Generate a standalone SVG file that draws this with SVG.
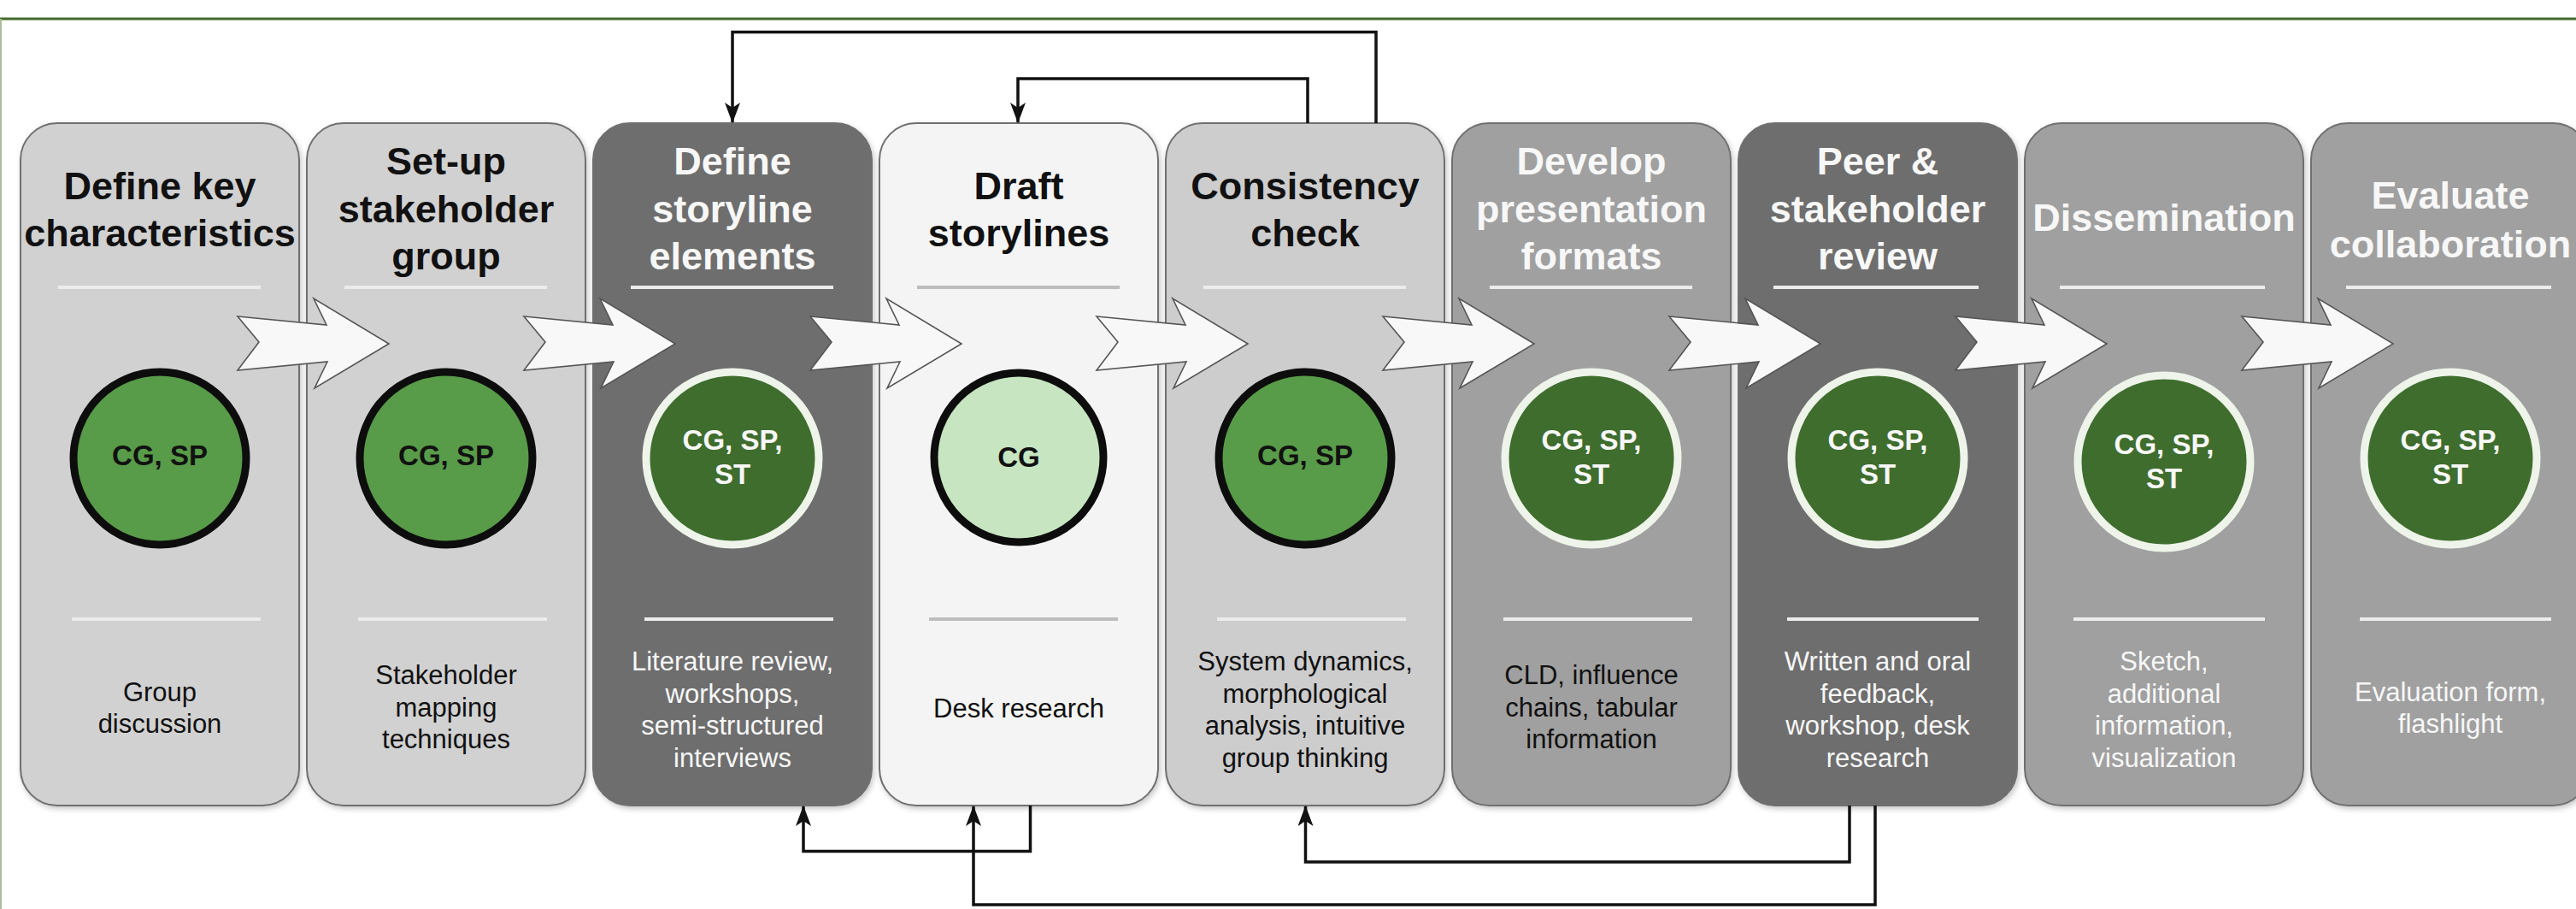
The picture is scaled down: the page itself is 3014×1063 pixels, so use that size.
<svg xmlns="http://www.w3.org/2000/svg" width="3014" height="1063" viewBox="0 0 3014 1063">
<style>
.box{stroke:#6f6f6f;stroke-width:2}
.b-lt{fill:#d1d1d1}
.b-cc{fill:#cdcdcd}
.b-dk{fill:#6e6e6e}
.b-md{fill:#a0a0a0}
.b-wh{fill:#f4f4f4}
.sep{stroke:#ececec;stroke-width:4}
.sep-g{stroke:#bdbdbd;stroke-width:4}
.title{font-family:"Liberation Sans",Arial,sans-serif;font-weight:bold;font-size:45px;text-anchor:middle}
.desc{font-family:"Liberation Sans",Arial,sans-serif;font-size:31px;text-anchor:middle}
.ctext{font-family:"Liberation Sans",Arial,sans-serif;font-weight:bold;font-size:33px;text-anchor:middle}
.blk{fill:#111111}
.wht{fill:#f7f7f7}
.c-med{fill:#589b48;stroke:#0d0d0d;stroke-width:9}
.c-lig{fill:#c6e5c0;stroke:#0d0d0d;stroke-width:9}
.c-dk{fill:#3f6d2e;stroke:#eef4ea;stroke-width:9}
.chev{fill:#f8f8f8;stroke:#555555;stroke-width:1.6;stroke-linejoin:miter}
.conn{fill:none;stroke:#111111;stroke-width:3.5}
</style>
<defs>
<filter id="sh" x="-10%" y="-10%" width="120%" height="120%">
<feDropShadow dx="2" dy="3" stdDeviation="3" flood-color="#000" flood-opacity="0.22"/>
</filter>
<polygon id="chevron" points="0,370 104,380 89,349 177,402 90,454 105,423 0,433 25,400"/>
<marker id="ah" viewBox="0 0 24 18" refX="23" refY="9" markerWidth="24" markerHeight="18" markerUnits="userSpaceOnUse" orient="auto">
<path d="M0,0 L24,9 L0,18 L6,9 z" fill="#111111"/>
</marker>
</defs>
<rect x="0" y="0" width="3014" height="1063" fill="#ffffff"/>
<line x1="0" y1="22" x2="3014" y2="22" stroke="#44692a" stroke-width="3"/>
<line x1="1" y1="22" x2="1" y2="1063" stroke="#a9bf9a" stroke-width="2"/>

<g id="node1">
<rect class="box b-lt" filter="url(#sh)" x="24" y="144" width="326" height="798" rx="43"/>
<text class="title blk" x="187"><tspan x="187" y="233">Define key</tspan><tspan x="187" y="288">characteristics</tspan></text>
<line class="sep" x1="68" y1="336" x2="305" y2="336"/>
<circle class="c-med" cx="187" cy="536" r="101"/>
<text class="ctext blk" x="187" y="544">CG, SP</text>
<line class="sep" x1="84" y1="724" x2="305" y2="724"/>
<text class="desc blk"><tspan x="187" y="820">Group</tspan><tspan x="187" y="857">discussion</tspan></text>
</g>

<g id="node2">
<rect class="box b-lt" filter="url(#sh)" x="359" y="144" width="326" height="798" rx="43"/>
<text class="title blk"><tspan x="522" y="204">Set-up</tspan><tspan x="522" y="260">stakeholder</tspan><tspan x="522" y="315">group</tspan></text>
<line class="sep" x1="403" y1="336" x2="640" y2="336"/>
<circle class="c-med" cx="522" cy="536" r="101"/>
<text class="ctext blk" x="522" y="544">CG, SP</text>
<line class="sep" x1="419" y1="724" x2="640" y2="724"/>
<text class="desc blk"><tspan x="522" y="800">Stakeholder</tspan><tspan x="522" y="838">mapping</tspan><tspan x="522" y="875">techniques</tspan></text>
</g>

<g id="node3">
<rect class="box b-dk" filter="url(#sh)" x="694" y="144" width="326" height="798" rx="43"/>
<text class="title wht"><tspan x="857" y="204">Define</tspan><tspan x="857" y="260">storyline</tspan><tspan x="857" y="315">elements</tspan></text>
<line class="sep" x1="738" y1="336" x2="975" y2="336"/>
<circle class="c-dk" cx="857" cy="536" r="101"/>
<text class="ctext wht"><tspan x="857" y="526">CG, SP,</tspan><tspan x="857" y="566">ST</tspan></text>
<line class="sep" x1="754" y1="724" x2="975" y2="724"/>
<text class="desc wht"><tspan x="857" y="784">Literature review,</tspan><tspan x="857" y="822">workshops,</tspan><tspan x="857" y="859">semi-structured</tspan><tspan x="857" y="897">interviews</tspan></text>
</g>

<g id="node4">
<rect class="box b-wh" filter="url(#sh)" x="1029" y="144" width="326" height="798" rx="43"/>
<text class="title blk"><tspan x="1192" y="233">Draft</tspan><tspan x="1192" y="288">storylines</tspan></text>
<line class="sep-g" x1="1073" y1="336" x2="1310" y2="336"/>
<circle class="c-lig" cx="1192" cy="535" r="99"/>
<text class="ctext blk" x="1192" y="546">CG</text>
<line class="sep-g" x1="1087" y1="724" x2="1308" y2="724"/>
<text class="desc blk"><tspan x="1192" y="839">Desk research</tspan></text>
</g>

<g id="node5">
<rect class="box b-cc" filter="url(#sh)" x="1364" y="144" width="326" height="798" rx="43"/>
<text class="title blk"><tspan x="1527" y="233">Consistency</tspan><tspan x="1527" y="288">check</tspan></text>
<line class="sep" x1="1408" y1="336" x2="1645" y2="336"/>
<circle class="c-med" cx="1527" cy="536" r="101"/>
<text class="ctext blk" x="1527" y="544">CG, SP</text>
<line class="sep" x1="1424" y1="724" x2="1645" y2="724"/>
<text class="desc blk"><tspan x="1527" y="784">System dynamics,</tspan><tspan x="1527" y="822">morphological</tspan><tspan x="1527" y="859">analysis, intuitive</tspan><tspan x="1527" y="897">group thinking</tspan></text>
</g>

<g id="node6">
<rect class="box b-md" filter="url(#sh)" x="1699" y="144" width="326" height="798" rx="43"/>
<text class="title wht"><tspan x="1862" y="204">Develop</tspan><tspan x="1862" y="260">presentation</tspan><tspan x="1862" y="315">formats</tspan></text>
<line class="sep" x1="1743" y1="336" x2="1980" y2="336"/>
<circle class="c-dk" cx="1862" cy="536" r="101"/>
<text class="ctext wht"><tspan x="1862" y="526">CG, SP,</tspan><tspan x="1862" y="566">ST</tspan></text>
<line class="sep" x1="1759" y1="724" x2="1980" y2="724"/>
<text class="desc blk"><tspan x="1862" y="800">CLD, influence</tspan><tspan x="1862" y="838">chains, tabular</tspan><tspan x="1862" y="875">information</tspan></text>
</g>

<g id="node7">
<rect class="box b-dk" filter="url(#sh)" x="2034" y="144" width="326" height="798" rx="43"/>
<text class="title wht"><tspan x="2197" y="204">Peer &amp;</tspan><tspan x="2197" y="260">stakeholder</tspan><tspan x="2197" y="315">review</tspan></text>
<line class="sep" x1="2075" y1="336" x2="2315" y2="336"/>
<circle class="c-dk" cx="2197" cy="536" r="101"/>
<text class="ctext wht"><tspan x="2197" y="526">CG, SP,</tspan><tspan x="2197" y="566">ST</tspan></text>
<line class="sep" x1="2091" y1="724" x2="2315" y2="724"/>
<text class="desc wht"><tspan x="2197" y="784">Written and oral</tspan><tspan x="2197" y="822">feedback,</tspan><tspan x="2197" y="859">workshop, desk</tspan><tspan x="2197" y="897">research</tspan></text>
</g>

<g id="node8">
<rect class="box b-md" filter="url(#sh)" x="2369" y="144" width="326" height="798" rx="43"/>
<text class="title wht"><tspan x="2532" y="270">Dissemination</tspan></text>
<line class="sep" x1="2410" y1="336" x2="2650" y2="336"/>
<circle class="c-dk" cx="2532" cy="540" r="101"/>
<text class="ctext wht"><tspan x="2532" y="531">CG, SP,</tspan><tspan x="2532" y="571">ST</tspan></text>
<line class="sep" x1="2426" y1="724" x2="2650" y2="724"/>
<text class="desc wht"><tspan x="2532" y="784">Sketch,</tspan><tspan x="2532" y="822">additional</tspan><tspan x="2532" y="859">information,</tspan><tspan x="2532" y="897">visualization</tspan></text>
</g>

<g id="node9">
<rect class="box b-md" filter="url(#sh)" x="2704" y="144" width="326" height="798" rx="43"/>
<text class="title wht"><tspan x="2867" y="244">Evaluate</tspan><tspan x="2867" y="301">collaboration</tspan></text>
<line class="sep" x1="2745" y1="336" x2="2985" y2="336"/>
<circle class="c-dk" cx="2867" cy="536" r="101"/>
<text class="ctext wht"><tspan x="2867" y="526">CG, SP,</tspan><tspan x="2867" y="566">ST</tspan></text>
<line class="sep" x1="2761" y1="724" x2="2985" y2="724"/>
<text class="desc wht"><tspan x="2867" y="820">Evaluation form,</tspan><tspan x="2867" y="857">flashlight</tspan></text>
</g>

<g id="flow-arrows">
<use href="#chevron" class="chev" x="278"/>
<use href="#chevron" class="chev" x="613"/>
<use href="#chevron" class="chev" x="948"/>
<use href="#chevron" class="chev" x="1283"/>
<use href="#chevron" class="chev" x="1618"/>
<use href="#chevron" class="chev" x="1953"/>
<use href="#chevron" class="chev" x="2288"/>
<use href="#chevron" class="chev" x="2623"/>
</g>

<g id="connectors">
<path class="conn" marker-end="url(#ah)" d="M1610,144 V37.5 H857 V143"/>
<path class="conn" marker-end="url(#ah)" d="M1530,144 V92 H1191 V143"/>
<path class="conn" marker-end="url(#ah)" d="M1205.5,942 V995.5 H940 V943"/>
<path class="conn" marker-end="url(#ah)" d="M2164,942 V1008 H1527.5 V943"/>
<path class="conn" marker-end="url(#ah)" d="M2194,942 V1058 H1139 V943"/>
</g>
</svg>
